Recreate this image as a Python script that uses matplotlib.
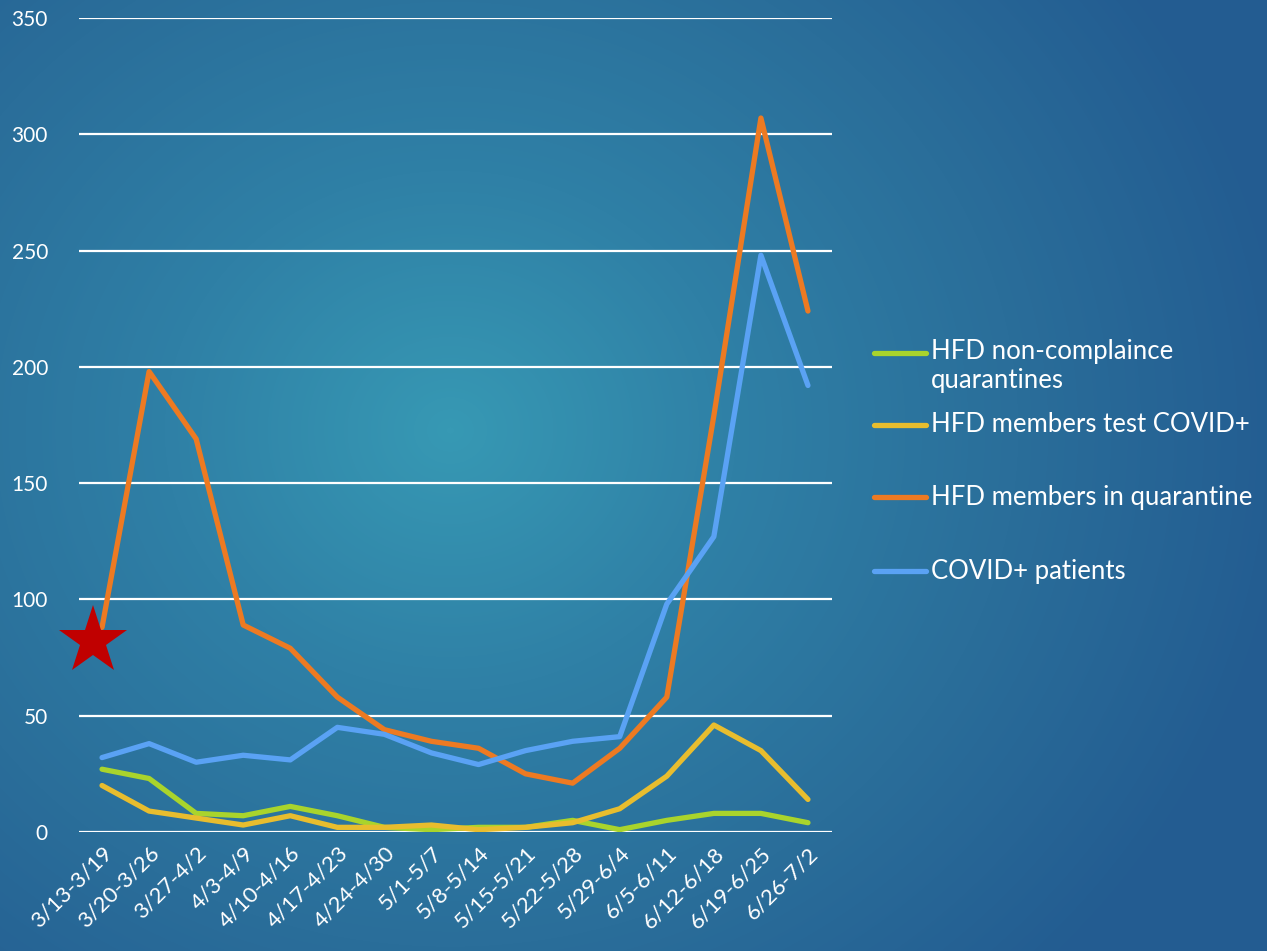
import numpy as np
import matplotlib
matplotlib.use("Agg")
import matplotlib.pyplot as plt
from matplotlib.lines import Line2D
from matplotlib.colors import LinearSegmentedColormap

plt.rcParams['font.family'] = ['Lato', 'DejaVu Sans']

weeks = ['3/13-3/19', '3/20-3/26', '3/27-4/2', '4/3-4/9', '4/10-4/16', '4/17-4/23',
         '4/24-4/30', '5/1-5/7', '5/8-5/14', '5/15-5/21', '5/22-5/28', '5/29-6/4',
         '6/5-6/11', '6/12-6/18', '6/19-6/25', '6/26-7/2']
non_compliance = [27, 23, 8, 7, 11, 7, 2, 1, 2, 2, 5, 1, 5, 8, 8, 4]
members_positive = [20, 9, 6, 3, 7, 2, 2, 3, 1, 2, 4, 10, 24, 46, 35, 14]
members_quarantine = [88, 198, 169, 89, 79, 58, 44, 39, 36, 25, 21, 36, 58, 179, 307, 224]
covid_patients = [32, 38, 30, 33, 31, 45, 42, 34, 29, 35, 39, 41, 98, 127, 248, 192]

series_labels = ['HFD non-complaince\nquarantines', 'HFD members test COVID+',
                 'HFD members in quarantine', 'COVID+ patients']
series_colors = ['#a9d42c', '#e8bd2e', '#ed7a22', '#5aa2f4']
star_point = (0, 82)

W, H = 1267, 951
fig = plt.figure(figsize=(W / 100, H / 100), dpi=100)

# radial background
bg = fig.add_axes([0, 0, 1, 1])
yy, xx = np.mgrid[0:H, 0:W]
r = np.sqrt((xx - 450) ** 2 + ((yy - 430) * 1.1) ** 2) / 850
r = np.clip(r, 0, 1)
cmap = LinearSegmentedColormap.from_list('bg', ['#3799b4', '#2f80a6', '#2a6e9a', '#235c91'])
bg.imshow(r, cmap=cmap, aspect='auto', extent=[0, 1, 0, 1], origin='upper')
bg.axis('off')

ax = fig.add_axes([78.5 / W, 119 / H, 753 / W, 814 / H])
ax.set_facecolor('none')
x = np.arange(len(weeks))
data = [non_compliance, members_positive, members_quarantine, covid_patients]
for vals, c in zip(data, series_colors):
    ax.plot(x, vals, color=c, lw=3.8, solid_capstyle='round', solid_joinstyle='round', zorder=3)

ax.plot(star_point[0] - 0.2, star_point[1], marker='*', color='#c00000', markersize=52,
        markeredgewidth=0, clip_on=False, zorder=4)

ax.set_xlim(-0.5, len(weeks) - 0.5)
ax.set_ylim(0, 350)
ax.set_yticks(range(0, 351, 50))
ax.yaxis.grid(True, color='white', lw=1.6)
ax.set_axisbelow(True)
for s in ax.spines.values():
    s.set_visible(False)
ax.tick_params(length=0, colors='white')
ax.tick_params(axis='y', pad=22, labelsize=15)
ax.set_xticks(x)
ax.set_xticklabels(weeks, rotation=45, ha='right', rotation_mode='anchor', fontsize=16)
ax.tick_params(axis='x', pad=8)

# legend
leg_y = [353, 425, 497, 571]
for lab, c, py in zip(series_labels, series_colors, leg_y):
    fy = 1 - py / H
    fig.add_artist(Line2D([874 / W, 926 / W], [fy, fy], color=c, lw=3.8,
                          solid_capstyle='round', transform=fig.transFigure))
    fig.text(931 / W, fy, lab, color='white', fontsize=18.5, va='top' if '\n' in lab else 'center',
             ha='left', linespacing=1.2)

fig.texts[0].set_y(1 - 339 / H)

fig.savefig('out.png', dpi=100)
